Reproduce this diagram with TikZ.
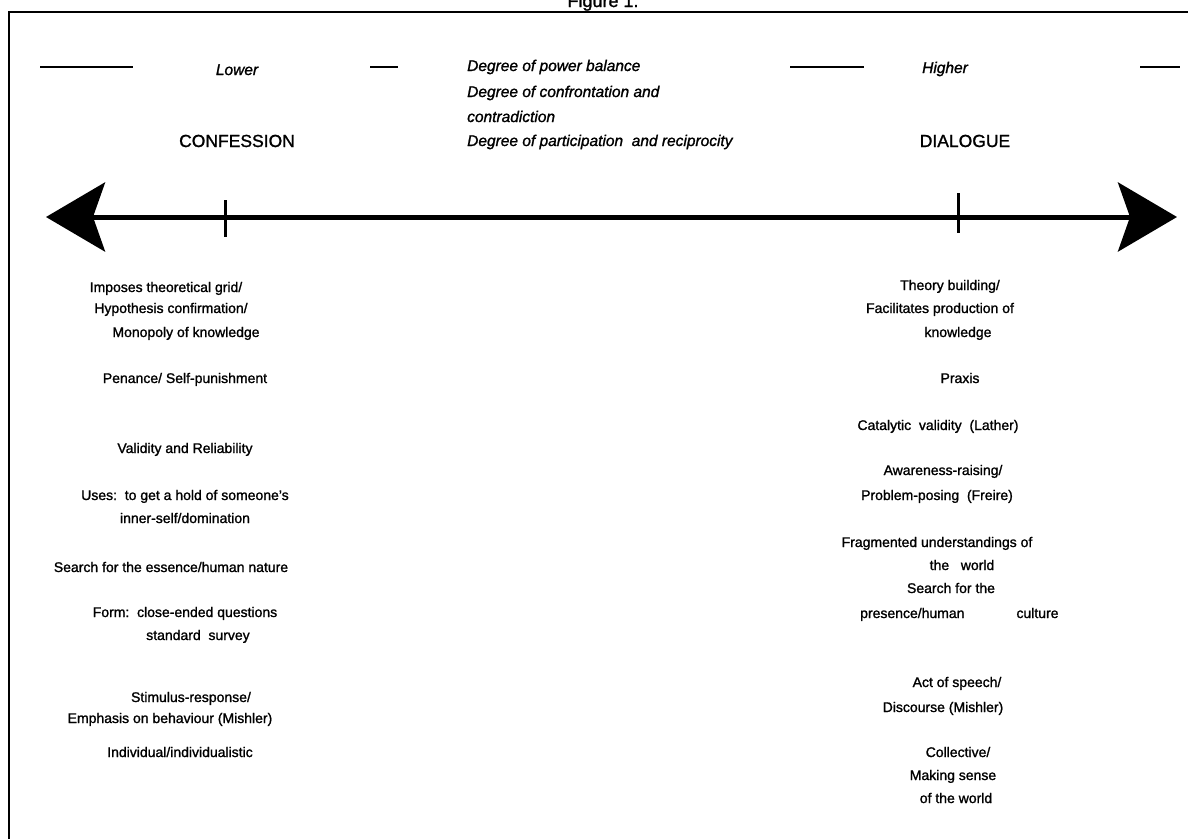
\documentclass[tikz,border=0pt]{standalone}
\usepackage{fontspec}
\setmainfont{Liberation Sans}[FakeBold=1.3]
\usetikzlibrary{arrows.meta}
\tikzset{
  txt/.style={anchor=base, inner sep=0pt, font=\fontsize{14}{16}\selectfont},
  hdr/.style={anchor=base, inner sep=0pt, font=\fontsize{15.5}{18}\selectfont\itshape},
  poletext/.style={anchor=base, inner sep=0pt, font=\fontsize{17.5}{20}\selectfont},
  dashseg/.style={line width=2pt},
  frame/.style={line width=2.5pt},
  tickmark/.style={line width=3pt},
  bigarrow/.style={line width=5pt, {Stealth[length=59pt,width=69pt,inset=12pt]}-{Stealth[length=59pt,width=69pt,inset=12pt]}}
}
\begin{document}
\begin{tikzpicture}[x=1pt,y=-1pt]
\useasboundingbox (0,0) rectangle (1188,839);
% title (cut at the top)
\node[anchor=base, inner sep=0pt, font=\fontsize{18}{20}\selectfont] (title) at (603,7) {Figure 1.};
% frame
\coordinate (f1) at (9,839);
\coordinate (f2) at (9,12);
\coordinate (f3) at (1190,12);
\draw[frame] (f1) -- (f2) -- (f3);
% dashes
\coordinate (d1a) at (40,67);   \coordinate (d1b) at (133,67);
\coordinate (d2a) at (370,67);  \coordinate (d2b) at (398,67);
\coordinate (d3a) at (790,67);  \coordinate (d3b) at (864,67);
\coordinate (d4a) at (1140,67); \coordinate (d4b) at (1180,67);
\draw[dashseg] (d1a) -- (d1b);
\draw[dashseg] (d2a) -- (d2b);
\draw[dashseg] (d3a) -- (d3b);
\draw[dashseg] (d4a) -- (d4b);
% header texts
\node[hdr] (lower) at (237,75) {Lower};
\node[hdr] (higher) at (945,73) {Higher};
\node[hdr, anchor=base west] (h1) at (467,71) {Degree of power balance};
\node[hdr, anchor=base west] (h2) at (467,97) {Degree of confrontation and};
\node[hdr, anchor=base west] (h3) at (467,122) {contradiction};
\node[hdr, anchor=base west] (h4) at (467,146) {Degree of participation\ \ and reciprocity};
\node[poletext] (conf) at (237,147) {CONFESSION};
\node[poletext] (dial) at (965,147) {DIALOGUE};
% axis
\coordinate (L) at (46,217);
\coordinate (R) at (1177,217);
\draw[bigarrow] (L) -- (R);
\coordinate (t1a) at (225,200); \coordinate (t1b) at (225,237);
\coordinate (t2a) at (958,193); \coordinate (t2b) at (958,233);
\draw[tickmark] (t1a) -- (t1b);
\draw[tickmark] (t2a) -- (t2b);
% left column
\node[txt] (l1a) at (166,292) {Imposes theoretical grid/};
\node[txt] (l1b) at (171,313) {Hypothesis confirmation/};
\node[txt] (l1c) at (186,337) {Monopoly of knowledge};
\node[txt] (l2) at (185,383) {Penance/ Self-punishment};
\node[txt] (l3) at (185,453) {Validity and Reliability};
\node[txt] (l4a) at (185,500) {Uses:\ \ to get a hold of someone's};
\node[txt] (l4b) at (185,523) {inner-self/domination};
\node[txt] (l5) at (171,572) {Search for the essence/human nature};
\node[txt] (l6a) at (185,617) {Form:\ \ close-ended questions};
\node[txt] (l6b) at (198,640) {standard\ \ survey};
\node[txt] (l7a) at (191,702) {Stimulus-response/};
\node[txt] (l7b) at (170,723) {Emphasis on behaviour (Mishler)};
\node[txt] (l8) at (180,757) {Individual/individualistic};
% right column
\node[txt] (r1a) at (950,290) {Theory building/};
\node[txt] (r1b) at (940,313) {Facilitates production of};
\node[txt] (r1c) at (958,337) {knowledge};
\node[txt] (r2) at (960,383) {Praxis};
\node[txt] (r3) at (938,430) {Catalytic\ \ validity\ \ (Lather)};
\node[txt] (r4a) at (943,475) {Awareness-raising/};
\node[txt] (r4b) at (937,500) {Problem-posing\ \ (Freire)};
\node[txt] (r5a) at (937,547) {Fragmented understandings of};
\node[txt] (r5b) at (962,570) {the\ \ \ world};
\node[txt] (r5c) at (951,593) {Search for the};
\node[txt, anchor=base west] (r5d) at (860,618) {presence/human\hspace{52pt}culture};
\node[txt] (r6a) at (957,687) {Act of speech/};
\node[txt] (r6b) at (943,712) {Discourse (Mishler)};
\node[txt] (r7a) at (958,757) {Collective/};
\node[txt] (r7b) at (953,780) {Making sense};
\node[txt] (r7c) at (956,803) {of the world};
\end{tikzpicture}
\end{document}
